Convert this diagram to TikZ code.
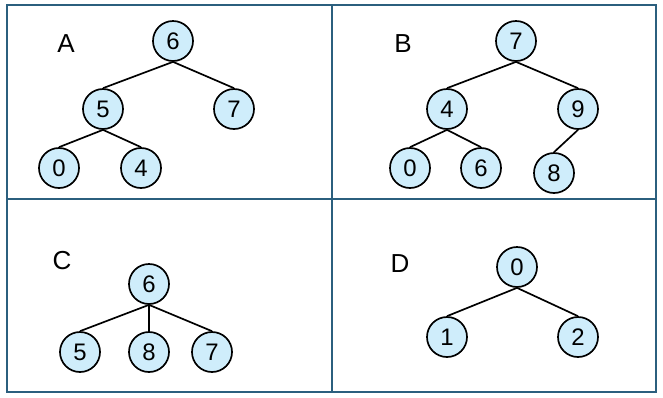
\documentclass[tikz,border=0pt]{standalone}
\usepackage{fontspec}
\setmainfont{Liberation Sans}
\usepackage{tikz}
\usetikzlibrary{positioning}
\usepackage{xcolor}
\definecolor{framecol}{HTML}{2B5F7E}
\definecolor{nodefill}{HTML}{CFEDFB}
\tikzstyle{num} = [circle, minimum size=1cm, inner sep=0pt, draw=black, line width=1.2pt,
    fill=nodefill, font=\fontsize{17}{17}\selectfont]
\tikzstyle{tag} = [font=\fontsize{18.5}{18.5}\selectfont]
\tikzstyle{edge} = [line width=1.2pt, black]
\tikzstyle{frame} = [line width=1.8pt, draw=framecol]

\begin{document}
\begin{tikzpicture}[x=0.025cm, y=-0.025cm]
\useasboundingbox (0,0) rectangle (663,397);
% panels
\draw[frame] (7,5) rectangle (656,392);
\draw[frame] (332,5) -- (332,392);
\draw[frame] (7,199) -- (656,199);

% A
\node (tA) [tag] at (66,44) {A};
\node (a6) [num] at (173,41) {6};
\node (a5) [num] at (103,109) {5};
\node (a7) [num] at (234,109) {7};
\node (a0) [num] at (59,168) {0};
\node (a4) [num] at (141,168) {4};
\draw[edge] (a6.south) -- (a5.north);
\draw[edge] (a6.south) -- (a7.north);
\draw[edge] (a5.south) -- (a0.north);
\draw[edge] (a5.south) -- (a4.north);

% B
\node (tB) [tag] at (403,44) {B};
\node (b7) [num] at (516,41) {7};
\node (b4) [num] at (447,109) {4};
\node (b9) [num] at (578,109) {9};
\node (b0) [num] at (410,168) {0};
\node (b6) [num] at (481,168) {6};
\node (b8) [num] at (554,173) {8};
\draw[edge] (b7.south) -- (b4.north);
\draw[edge] (b7.south) -- (b9.north);
\draw[edge] (b4.south) -- (b0.north);
\draw[edge] (b4.south) -- (b6.north);
\draw[edge] (b9.south) -- (b8.north);

% C
\node (tC) [tag] at (62,261) {C};
\node (c6) [num] at (149,284) {6};
\node (c5) [num] at (80,352) {5};
\node (c8) [num] at (149,352) {8};
\node (c7) [num] at (212,352) {7};
\draw[edge] (c6.south) -- (c5.north);
\draw[edge] (c6.south) -- (c8.north);
\draw[edge] (c6.south) -- (c7.north);

% D
\node (tD) [tag] at (400,264) {D};
\node (d0) [num] at (517,267) {0};
\node (d1) [num] at (447,337) {1};
\node (d2) [num] at (578,337) {2};
\draw[edge] (d0.south) -- (d1.north);
\draw[edge] (d0.south) -- (d2.north);
\end{tikzpicture}
\end{document}
